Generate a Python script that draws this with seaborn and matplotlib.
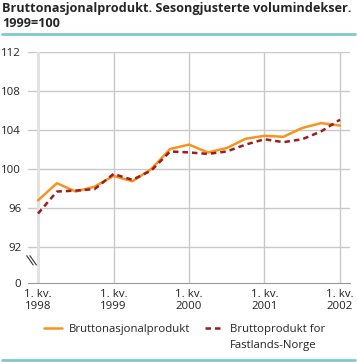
import numpy as np
import pandas as pd
import matplotlib
matplotlib.use("Agg")
import matplotlib.pyplot as plt
import seaborn as sns

# quarterly indices, 1998Q1 .. 2002Q1
quarters = ["1998K1", "1998K2", "1998K3", "1998K4",
            "1999K1", "1999K2", "1999K3", "1999K4",
            "2000K1", "2000K2", "2000K3", "2000K4",
            "2001K1", "2001K2", "2001K3", "2001K4",
            "2002K1"]
bnp = [96.8, 98.55, 97.7, 98.2, 99.3, 98.75, 100.0, 102.05, 102.5,
       101.7, 102.15, 103.1, 103.4, 103.3, 104.2, 104.7, 104.45]
fastland = [95.45, 97.7, 97.8, 97.95, 99.5, 98.9, 99.85, 101.8, 101.7,
            101.55, 101.8, 102.5, 103.05, 102.75, 103.05, 103.85, 105.05]
year_ticks = ["1. kv.\n1998", "1. kv.\n1999", "1. kv.\n2000", "1. kv.\n2001", "1. kv.\n2002"]
y_ticks = [92, 96, 100, 104, 108, 112]

ORANGE = "#f7931e"
RED = "#9e1b1e"
GRID = "#c9c9c9"
TEAL = "#80cbca"

sns.set_style("white")
plt.rcParams["font.family"] = ["Open Sans", "DejaVu Sans"]

df = pd.DataFrame({"pos": np.arange(len(quarters)), "bnp": bnp, "fastland": fastland})
zero_pos = 88.35  # where the broken axis shows "0"

fig = plt.figure(figsize=(3.57, 3.62), dpi=100)
ax = fig.add_axes([28 / 357, 1 - 283 / 362, 322 / 357, (283 - 51.7) / 362])

# grid
for v in y_ticks:
    ax.axhline(v, color=GRID, lw=1, zorder=0)
for i, p in enumerate([0, 4, 8, 12, 16]):
    if i == 0:
        ax.axvline(p, color="#e2e2e2", lw=2.2, zorder=0)
    else:
        ax.axvline(p, color=GRID, lw=1, zorder=0)

sns.lineplot(data=df, x="pos", y="bnp", ax=ax, color=ORANGE, lw=1.8,
             label="Bruttonasjonalprodukt")
sns.lineplot(data=df, x="pos", y="fastland", ax=ax, color=RED, lw=1.8,
             linestyle=(0, (2.2, 1.6)), label="Bruttoprodukt for")

ax.set_xlim(-0.53, 16.53)
ax.set_ylim(zero_pos, 112)
ax.set_yticks([zero_pos] + y_ticks)
ax.set_yticklabels(["0"] + [str(v) for v in y_ticks])
ax.set_xticks([0, 4, 8, 12, 16])
ax.set_xticklabels(year_ticks)
ax.set_xticks(list(np.arange(17)) + [-0.53], minor=True)
ax.tick_params(axis="y", length=0, pad=5, labelsize=8.2, colors="#222222")
ax.tick_params(axis="x", which="major", length=0, pad=4, labelsize=8.2, colors="#222222")
ax.tick_params(axis="x", which="minor", direction="in", length=4, color="#999999", width=0.8)
ax.set_xlabel("")
ax.set_ylabel("")
for s in ["top", "right", "left"]:
    ax.spines[s].set_visible(False)
ax.spines["bottom"].set_color("#999999")
ax.spines["bottom"].set_linewidth(0.8)

# axis break marks
for dx in (0, 0.010):
    ax.plot([-0.004 + dx, 0.016 + dx], [0.118, 0.078], transform=ax.transAxes,
            color="#333333", lw=0.8, clip_on=False)

ax.legend_.remove()
h, l = ax.get_legend_handles_labels()
leg = fig.legend(h, l, loc="upper left", bbox_to_anchor=(44 / 357, 1 - 324 / 362), ncol=2,
                 frameon=False, fontsize=8.2, handlelength=1.6, columnspacing=1.3,
                 handletextpad=0.6, borderaxespad=0, borderpad=0)

fig.text(0.006, 0.994, "Bruttonasjonalprodukt. Sesongjusterte volumindekser.\n1999=100",
         fontsize=9.1, fontweight="bold", va="top", ha="left", linespacing=1.2)
fig.add_artist(plt.Line2D([0.006, 0.994], [1 - 33.5 / 362] * 2, color=TEAL, lw=2))
fig.add_artist(plt.Line2D([0.006, 0.994], [1 - 359.5 / 362] * 2, color=TEAL, lw=2))

# second line of the dashed series label
fig.canvas.draw()
bb = leg.get_texts()[1].get_window_extent().transformed(fig.transFigure.inverted())
fig.text(bb.x0, bb.y0 - 0.015, "Fastlands-Norge", fontsize=8.2, va="top", ha="left",
         color="#222222")

fig.savefig("out.png", dpi=100)
